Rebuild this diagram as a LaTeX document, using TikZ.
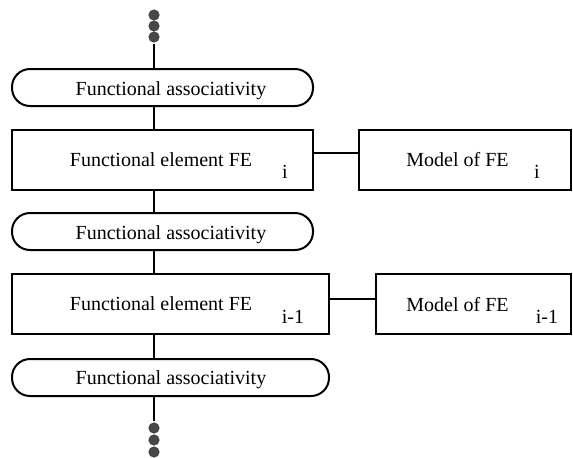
\documentclass[tikz,border=0pt]{standalone}
\usepackage{fontspec}
\newfontfamily\timesfont{Liberation Serif}
\begin{document}
\begin{tikzpicture}[x=0.5pt,y=-0.5pt,line width=1pt,
	terminal/.style={draw,rectangle,rounded corners=9pt,inner sep=0pt,minimum height=18.5pt},
	block/.style={draw,rectangle,inner sep=0pt,minimum height=30pt},
	lbl/.style={anchor=base,inner sep=0pt,font=\timesfont\fontsize{10}{12}\selectfont},
	dot/.style={circle,fill=black!72,draw=none,inner sep=0pt,minimum size=5.6pt}]
\useasboundingbox (0,0) rectangle (573,457);
%\draw[gray,help lines] (0,0) grid[step=50] (573,457);
% dots above and below
\node[dot] (top1) at (154,15) {};
\node[dot] (top2) at (154,26) {};
\node[dot] (top3) at (154,37) {};
\node[dot] (bot1) at (154,428) {};
\node[dot] (bot2) at (154,440) {};
\node[dot] (bot3) at (154,452) {};
% main column
\node[terminal,minimum width=150.5pt] (t1) at (162.5,87.5) {};
\node[block,minimum width=150.5pt] (fe1) at (162.5,159.5) {};
\node[terminal,minimum width=150.5pt] (t2) at (162.5,231.5) {};
\node[block,minimum width=158.5pt] (fe2) at (170.5,303.5) {};
\node[terminal,minimum width=158.5pt] (t3) at (170.5,377.5) {};
% models
\node[block,minimum width=106pt] (m1) at (465,159.5) {};
\node[block,minimum width=97.5pt] (m2) at (473.5,304) {};
% texts
\node[lbl] (t1txt) at (171,95) {Functional associativity};
\node[lbl] (t2txt) at (171,239) {Functional associativity};
\node[lbl] (t3txt) at (171,384) {Functional associativity};
\node[lbl] (fe1txt) at (161,166) {Functional element FE};
\node[lbl] (fe1sub) at (285,178) {i};
\node[lbl] (fe2txt) at (161,310.5) {Functional element FE};
\node[lbl] (fe2sub) at (293,323) {i-1};
\node[lbl] (m1txt) at (457.5,166) {Model of FE};
\node[lbl] (m1sub) at (537,178) {i};
\node[lbl] (m2txt) at (457.5,311) {Model of FE};
\node[lbl] (m2sub) at (547,323) {i-1};
% connectors
\draw (top3.south) -- (t1.north -| top3);
\draw (t1.south -| top3) -- (fe1.north -| top3);
\draw (fe1.south -| top3) -- (t2.north -| top3);
\draw (t2.south -| top3) -- (fe2.north -| top3);
\draw (fe2.south -| top3) -- (t3.north -| top3);
\draw (t3.south -| top3) -- (bot1.north);
\coordinate (c1) at (0,153);
\coordinate (c2) at (0,299);
\draw (fe1.east |- c1) -- (m1.west |- c1);
\draw (fe2.east |- c2) -- (m2.west |- c2);
\end{tikzpicture}
\end{document}
